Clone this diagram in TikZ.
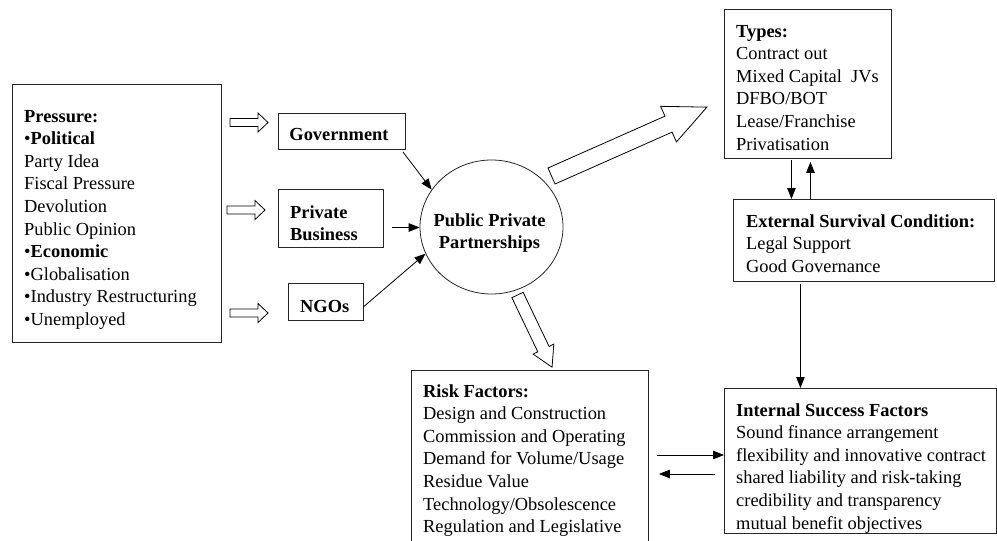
\documentclass[tikz,border=0pt]{standalone}
\usepackage{fontspec}
\setmainfont{Liberation Serif}
\usetikzlibrary{arrows.meta,shapes.geometric}
% #1,#2 tail centre, #3 angle, #4 length, #5 shaft width, #6 head width, #7 head length
\newcommand{\blkarrow}[7]{%
  \begin{scope}[shift={(#1,#2)},rotate=#3]
    \draw[blk] (0,{-#5/2}) -- ({#4-#7},{-#5/2}) -- ({#4-#7},{-#6/2}) -- (#4,0)
      -- ({#4-#7},{#6/2}) -- ({#4-#7},{#5/2}) -- (0,{#5/2}) -- cycle;
  \end{scope}}
\newcommand{\txtblock}[1]{\parbox[t]{265pt}{\raggedright\fontsize{18.4}{22.6}\selectfont #1}}
\newcommand{\ctrblock}[1]{\parbox[t]{160pt}{\centering\fontsize{18.4}{22.6}\selectfont #1}}
\begin{document}
\begin{tikzpicture}[x=1pt,y=-1pt,
  box/.style={draw=black!85, line width=0.9pt, anchor=north west, inner sep=0pt},
  txt/.style={anchor=base west, inner sep=0pt},
  ctxt/.style={anchor=base, inner sep=0pt},
  arr/.style={-{Triangle[length=11pt,width=8.5pt]}, line width=0.8pt},
  blk/.style={draw=black, line width=0.8pt, fill=white, line join=miter}]
\useasboundingbox (0,0) rectangle (997,541);

% boxes
\node[box, minimum width=209pt, minimum height=258pt] (press) at (12,84) {};
\node[box, minimum width=127pt, minimum height=36pt] (gov) at (278,113) {};
\node[box, minimum width=105pt, minimum height=58pt] (pb) at (278,189) {};
\node[box, minimum width=75pt, minimum height=37pt] (ngo) at (288,283) {};
\node[draw=black!85, ellipse, line width=0.8pt, inner sep=0pt,
      minimum width=143pt, minimum height=134pt] (ppp) at (491.5,227) {};
\node[box, minimum width=167pt, minimum height=149pt] (types) at (724,9) {};
\node[box, minimum width=261pt, minimum height=82pt] (ext) at (733,199) {};
\node[box, minimum width=237pt, minimum height=190pt] (risk) at (411,370) {};
\node[box, minimum width=271.5pt, minimum height=145pt] (int) at (724,388) {};

% texts
\node[txt] (presst) at (24,122) {\txtblock{\textbf{Pressure:}\\•\textbf{Political}\\Party Idea\\Fiscal Pressure\\Devolution\\Public Opinion\\•\textbf{Economic}\\•Globalisation\\•Industry Restructuring\\•Unemployed}};
\node[ctxt] (govt) at (339,140) {\ctrblock{\textbf{Government}}};
\node[txt] (pbt) at (290,218) {\txtblock{\textbf{Private}\\\textbf{Business}}};
\node[txt] (ngot) at (300,312) {\txtblock{\textbf{NGOs}}};
\node[ctxt] (pppt) at (489.5,226) {\ctrblock{\textbf{Public Private}\\\textbf{Partnerships}}};
\node[txt] (typest) at (736,37) {\txtblock{\textbf{Types:}\\Contract out\\Mixed Capital~ JVs\\DFBO/BOT\\Lease/Franchise\\Privatisation}};
\node[txt] (extt) at (746,227) {\txtblock{\textbf{External Survival Condition:}\\Legal Support\\Good Governance}};
\node[txt] (riskt) at (423,397) {\txtblock{\textbf{Risk Factors:}\\Design and Construction\\Commission and Operating\\Demand for Volume/Usage\\Residue Value\\Technology/Obsolescence\\Regulation and Legislative}};
\node[txt] (intt) at (736,416) {\txtblock{\textbf{Internal Success Factors}\\Sound finance arrangement\\flexibility and innovative contract\\shared liability and risk-taking\\credibility and transparency\\mutual benefit objectives}};

% block arrows
\blkarrow{230}{122.5}{0}{38}{8}{19}{10}
\blkarrow{227}{210}{0}{38}{8}{19}{10}
\blkarrow{230}{313}{0}{38}{8}{19}{10}
\blkarrow{551.5}{176}{23.9}{170}{17.5}{39}{42}
\blkarrow{517.5}{295}{-64.4}{80}{12.5}{23}{20}

% connectors
\draw[arr] ([xshift=-3pt,yshift=-2pt]gov.south east) -- (ppp.148);
\coordinate (pbs) at (392,227.5);
\draw[arr] (pbs) -- (pbs -| ppp.west);
\draw[arr] ([yshift=-4.5pt]ngo.east) -- (ppp.202);
\draw[arr] ([xshift=-16.5pt,yshift=-1.5pt]types.south) -- ([xshift=-16.5pt]types.south |- ext.north);
\draw[arr] ([xshift=2.5pt]types.south |- ext.north) -- ([xshift=2.5pt,yshift=-3pt]types.south);
\draw[arr] ([xshift=-63.5pt,yshift=-2pt]ext.south) -- ([xshift=-63.5pt]ext.south |- int.north);
\coordinate (r1) at (657,455);
\draw[arr] (r1) -- (r1 -| int.west);
\coordinate (r2) at (715,474);
\draw[arr, shorten >=10pt] (r2) -- (r2 -| risk.east);
\end{tikzpicture}
\end{document}
